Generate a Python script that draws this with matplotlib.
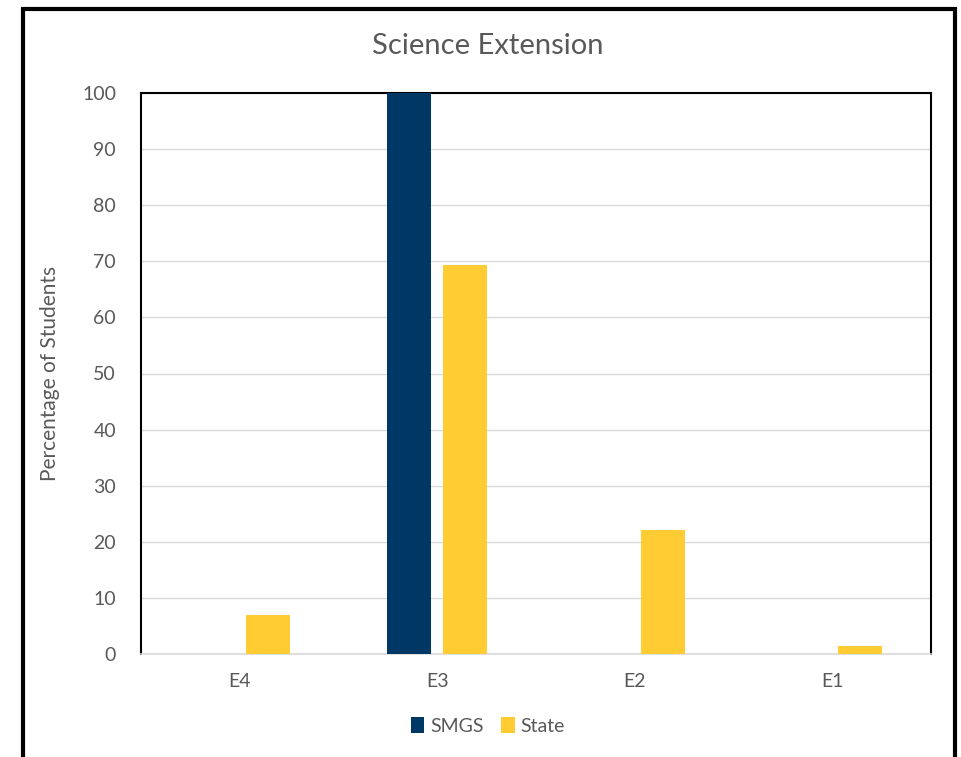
import matplotlib
matplotlib.use("Agg")
import matplotlib.pyplot as plt
import numpy as np
from matplotlib.patches import Rectangle

categories = ["E4", "E3", "E2", "E1"]
smgs = [0, 100, 0, 0]
state = [7.0, 69.3, 22.1, 1.4]
yticks = [0, 10, 20, 30, 40, 50, 60, 70, 80, 90, 100]

plt.rcParams['font.family'] = ['Lato', 'DejaVu Sans']
W, H = 962, 757
fig = plt.figure(figsize=(W/100, H/100), dpi=100)
ax = fig.add_axes([141/W, 1-654/H, (931-141)/W, (654-93)/H])

x = np.arange(len(categories))
bw = 0.223
gap = 0.06
ax.bar(x - (bw+gap)/2, smgs, bw, color="#003865", label="SMGS", zorder=3)
ax.bar(x + (bw+gap)/2, state, bw, color="#FFCD33", label="State", zorder=3)

ax.set_xlim(-0.5, len(categories)-0.5)
ax.set_ylim(0, 100)
ax.set_yticks(yticks)
ax.set_xticks(x)
ax.set_xticklabels(categories)
ax.tick_params(axis='both', length=0, labelsize=14, labelcolor="#595959")
ax.tick_params(axis='x', pad=14)
ax.tick_params(axis='y', pad=18)
ax.yaxis.grid(True, color="#D9D9D9", linewidth=1, zorder=0)
for s in ['top', 'left', 'right']:
    ax.spines[s].set_color("black")
    ax.spines[s].set_linewidth(1.5)
ax.spines['bottom'].set_color("#D9D9D9")
ax.spines['bottom'].set_linewidth(1.2)

ax.set_ylabel("Percentage of Students", fontsize=15, color="#595959", labelpad=16)
fig.text(488/W, 1-46/H, "Science Extension", ha='center', va='center', fontsize=21, color="#595959")

leg = ax.legend(loc='center', bbox_to_anchor=((488-141)/(931-141), (654-726)/(654-93)),
                ncol=2, frameon=False, fontsize=14, handlelength=0.7, handleheight=0.9,
                handletextpad=0.3, columnspacing=0.9)
for t in leg.get_texts():
    t.set_color("#595959")

# outer frame
fig.patches.append(Rectangle((23/W, -0.05), (955-23)/W, 1.05 - 8.5/H, transform=fig.transFigure,
                             fill=False, edgecolor="black", linewidth=3))

fig.savefig("out.png", dpi=100)
